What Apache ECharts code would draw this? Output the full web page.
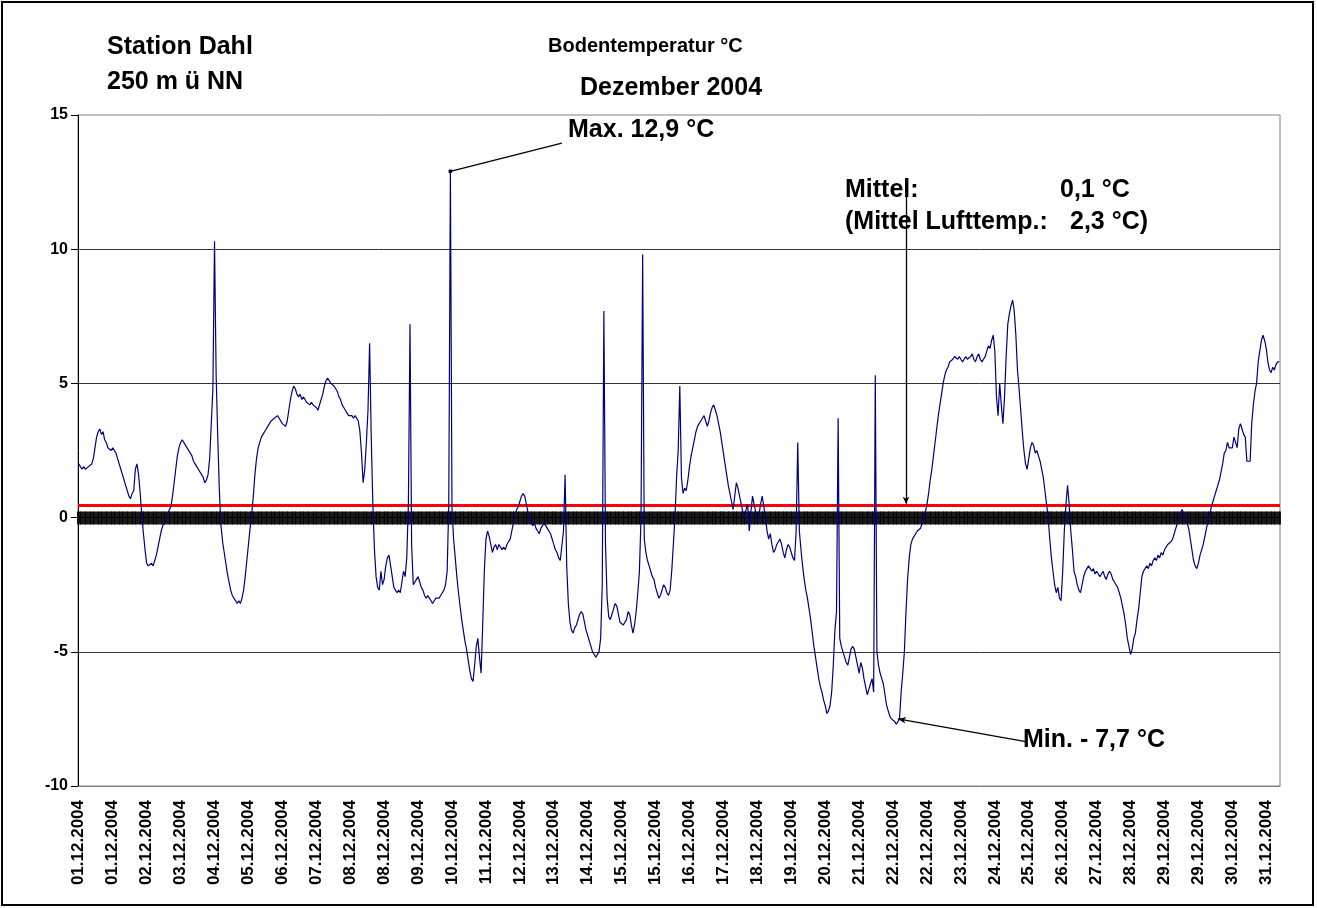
<!DOCTYPE html>
<html><head><meta charset="utf-8">
<script src="https://cdn.jsdelivr.net/npm/echarts@6/dist/echarts.min.js"></script>
<style>html,body{margin:0;padding:0;background:#fff}#c{width:1317px;height:908px}</style>
</head><body><div id="c"></div>
<script>
// Hourly soil temperature (°C), one array per day of December 2004 (hours 0..23)
const d01 = [2.0,1.9,1.8,1.9,1.8,1.8,1.9,1.9,2.0,2.2,2.6,3.0,3.2,3.3,3.1,3.2,2.9,2.8,2.6,2.6,2.5,2.6,2.5,2.4];
const d02 = [2.2,2.0,1.8,1.6,1.4,1.2,1.0,0.8,0.7,0.9,1.0,1.8,2.0,1.6,0.9,0.1,-0.6,-1.2,-1.7,-1.8,-1.8,-1.7,-1.8,-1.6];
const d03 = [-1.4,-1.1,-0.8,-0.5,-0.3,-0.2,-0.1,0.1,0.3,0.4,0.8,1.3,1.8,2.3,2.6,2.8,2.9,2.9,2.7,2.6,2.5,2.4,2.3,2.1];
const d04 = [2.0,1.9,1.8,1.7,1.6,1.5,1.3,1.4,1.6,2.2,3.5,4.8,10.3,5.3,3.0,1.0,-0.3,-0.9,-1.3,-1.7,-2.1,-2.4,-2.7,-2.9];
const d05 = [-3.0,-3.1,-3.2,-3.1,-3.2,-3.0,-2.7,-2.2,-1.6,-1.0,-0.4,0.1,0.8,1.6,2.2,2.6,2.8,3.0,3.1,3.2,3.3,3.4,3.5,3.6];
const d06 = [3.6,3.7,3.7,3.8,3.7,3.6,3.5,3.5,3.4,3.6,4.0,4.4,4.7,4.9,4.8,4.6,4.5,4.6,4.4,4.5,4.4,4.3,4.3,4.2];
const d07 = [4.3,4.2,4.2,4.1,4.0,4.2,4.4,4.6,4.9,5.1,5.2,5.2,5.0,5.0,4.9,4.8,4.7,4.5,4.4,4.2,4.1,4.0,3.9,3.8];
const d08 = [3.8,3.8,3.7,3.8,3.7,3.6,3.2,2.4,1.3,1.8,2.8,4.0,6.5,3.0,0.5,-1.2,-2.2,-2.6,-2.7,-2.0,-2.5,-2.3,-1.8,-1.5];
const d09 = [-1.4,-1.8,-2.2,-2.6,-2.7,-2.8,-2.7,-2.8,-2.4,-2.0,-2.2,-1.5,0.5,7.2,-1.0,-2.5,-2.4,-2.3,-2.2,-2.4,-2.6,-2.7,-2.9,-3.0];
const d10 = [-2.9,-3.0,-3.1,-3.2,-3.1,-3.0,-3.0,-3.0,-2.9,-2.8,-2.7,-2.5,-2.0,0.5,12.9,0.3,-0.8,-1.5,-2.2,-2.8,-3.3,-3.8,-4.2,-4.6];
const d11 = [-4.9,-5.3,-5.7,-6.0,-6.1,-5.5,-4.8,-4.5,-5.2,-5.8,-4.0,-2.0,-0.8,-0.5,-0.7,-1.0,-1.3,-1.1,-1.0,-1.2,-1.0,-1.1,-1.2,-1.1];
const d12 = [-1.2,-1.0,-0.9,-0.8,-0.5,-0.2,0.1,0.3,0.4,0.6,0.8,0.9,0.8,0.5,0.2,0.0,-0.2,-0.3,-0.2,-0.4,-0.5,-0.6,-0.4,-0.3];
const d13 = [-0.2,-0.3,-0.4,-0.5,-0.6,-0.8,-1.0,-1.2,-1.3,-1.5,-1.6,-1.6,-0.5,1.6,-1.8,-3.2,-3.9,-4.2,-4.3,-4.1,-4.0,-3.8,-3.6,-3.5];
const d14 = [-3.6,-3.9,-4.2,-4.4,-4.6,-4.8,-5.0,-5.1,-5.2,-5.2,-5.0,-4.5,-2.5,7.7,-1.0,-3.0,-3.7,-3.8,-3.6,-3.4,-3.2,-3.3,-3.6,-3.9];
const d15 = [-3.9,-4.0,-4.0,-3.8,-3.5,-3.6,-4.0,-4.3,-4.0,-3.5,-2.8,-2.0,0.0,9.8,-0.8,-1.3,-1.6,-1.8,-2.0,-2.2,-2.3,-2.6,-2.8,-3.0];
const d16 = [-2.9,-2.7,-2.5,-2.6,-2.8,-2.9,-2.7,-2.0,-1.0,0.0,1.5,2.5,4.9,1.5,0.9,1.1,1.0,1.4,1.9,2.3,2.6,2.9,3.2,3.4];
const d17 = [3.5,3.6,3.7,3.8,3.6,3.4,3.6,3.9,4.1,4.2,4.0,3.8,3.5,3.2,2.8,2.4,2.0,1.6,1.2,0.9,0.6,0.3,0.8,1.3];
const d18 = [1.1,0.8,0.5,0.2,0.0,0.3,0.5,-0.5,0.2,0.8,0.5,0.2,-0.2,0.1,0.5,0.8,0.4,0.0,-0.5,-0.8,-0.6,-1.0,-1.3,-1.2];
const d19 = [-1.0,-0.9,-0.8,-1.0,-1.3,-1.5,-1.2,-1.0,-1.1,-1.3,-1.5,-1.6,-0.5,2.8,-0.5,-1.2,-1.8,-2.3,-2.7,-3.0,-3.4,-3.8,-4.3,-4.8];
const d20 = [-5.2,-5.6,-6.0,-6.3,-6.5,-6.8,-7.0,-7.3,-7.2,-7.0,-6.5,-5.5,-4.2,-3.5,3.7,-4.5,-4.8,-5.0,-5.2,-5.4,-5.5,-5.2,-4.9,-4.8];
const d21 = [-4.9,-5.2,-5.5,-5.8,-5.4,-5.6,-6.0,-6.3,-6.6,-6.4,-6.2,-6.0,-6.5,5.3,-5.0,-5.5,-5.8,-6.0,-6.2,-6.6,-7.0,-7.2,-7.4,-7.5];
const d22 = [-7.5,-7.6,-7.7,-7.6,-7.5,-6.5,-5.8,-5.0,-3.5,-2.3,-1.5,-1.0,-0.8,-0.7,-0.6,-0.5,-0.5,-0.4,-0.2,0.0,0.2,0.5,0.9,1.4];
const d23 = [1.8,2.3,2.8,3.3,3.8,4.2,4.6,5.0,5.3,5.5,5.6,5.8,5.8,5.9,6.0,6.0,5.9,6.0,5.9,5.8,5.9,6.0,5.9,5.9];
const d24 = [6.0,6.1,5.9,5.8,6.0,6.1,5.9,5.8,5.9,6.0,6.2,6.4,6.3,6.6,6.8,6.2,4.5,3.8,5.0,4.2,3.5,4.5,6.0,7.2];
const d25 = [7.6,7.9,8.1,7.7,6.8,5.5,4.8,4.0,3.2,2.5,2.0,1.8,2.2,2.6,2.8,2.7,2.4,2.5,2.3,2.1,1.8,1.5,1.0,0.5];
const d26 = [0.0,-0.8,-1.5,-2.0,-2.5,-2.8,-2.6,-3.0,-3.1,-2.0,-0.5,0.5,1.2,0.5,-0.5,-1.2,-2.0,-2.2,-2.5,-2.7,-2.8,-2.5,-2.2,-2.0];
const d27 = [-1.9,-1.8,-1.9,-2.0,-1.9,-2.1,-2.0,-2.1,-2.2,-2.1,-2.0,-2.2,-2.3,-2.1,-2.0,-2.1,-2.3,-2.4,-2.5,-2.6,-2.8,-3.0,-3.3,-3.6];
const d28 = [-4.0,-4.5,-4.8,-5.1,-4.9,-4.5,-4.3,-3.8,-3.4,-2.8,-2.2,-2.0,-2.0,-1.8,-1.9,-1.7,-1.8,-1.6,-1.5,-1.6,-1.4,-1.5,-1.3,-1.4];
const d29 = [-1.2,-1.1,-1.0,-1.0,-0.9,-0.8,-0.6,-0.4,-0.2,0.0,0.2,0.3,0.1,-0.1,-0.2,-0.4,-0.8,-1.2,-1.6,-1.8,-1.9,-1.7,-1.4,-1.2];
const d30 = [-1.0,-0.7,-0.4,-0.1,0.1,0.4,0.6,0.8,1.0,1.2,1.4,1.7,2.0,2.4,2.5,2.8,2.6,2.6,2.6,3.0,2.8,2.6,3.3,3.5];
const d31 = [3.3,3.1,3.0,2.1,2.1,2.1,3.5,4.2,4.7,5.0,5.8,6.2,6.6,6.8,6.6,6.3,5.8,5.5,5.4,5.6,5.5,5.7,5.8,5.8];

const days = [d01,d02,d03,d04,d05,d06,d07,d08,d09,d10,d11,d12,d13,d14,d15,d16,d17,d18,d19,d20,d21,d22,d23,d24,d25,d26,d27,d28,d29,d30,d31];
const redLevel = 0.47;          // red horizontal line
const maxValue = 12.9, minValue = -7.7;
const yMin = -10, yMax = 15, yStep = 5;
const labelEvery = 21;          // one date label every 21 hours

const categories = [];
days.forEach((arr, di) => {
  arr.forEach((v, h) => {
    const dd = String(di + 1).padStart(2, '0');
    const hh = String(h).padStart(2, '0');
    categories.push(dd + '.12.2004 ' + hh + ':00');
  });
});
const values = days.flat();
const maxIdx = values.indexOf(maxValue);
const minIdx = values.indexOf(minValue);

const FF = '"Liberation Sans", Arial, Helvetica, sans-serif';
const chart = echarts.init(document.getElementById('c'), null, {renderer: 'canvas'});

function tickAxis(inside, len, yIdx) {
  return {
    type: 'category', data: categories, position: 'bottom',
    axisLine: {show: true, onZero: true, onZeroAxisIndex: yIdx, lineStyle: {color: '#000', width: 1}},
    axisTick: {show: true, interval: 0, inside: inside, length: len, lineStyle: {color: '#000', width: 1.8}},
    axisLabel: {show: false}, splitLine: {show: false}
  };
}

const T = (text, x, y, size, extra) => Object.assign({
  type: 'text', x: x, y: y, silent: true,
  style: {text: text, fill: '#000', fontSize: size, fontWeight: 'bold', fontFamily: FF, verticalAlign: 'middle', align: 'left'}
}, extra || {});

chart.setOption({
  animation: false,
  backgroundColor: '#fff',
  grid: {left: 78, right: 37, top: 115, bottom: 122, show: true, borderColor: '#808080', borderWidth: 1, containLabel: false, outerBoundsMode: 'none'},
  xAxis: [
    {
      type: 'category', data: categories, position: 'bottom',
      axisLine: {show: true, onZero: false, lineStyle: {color: '#808080', width: 1}},
      axisTick: {show: false},
      axisLabel: {interval: labelEvery - 1, rotate: 90, margin: 14, fontSize: 17, fontWeight: 'bold', color: '#000', fontFamily: FF,
                  formatter: v => v.slice(0, 10)},
      splitLine: {show: false}
    },
    tickAxis(false, 7, 0),
    tickAxis(true, 6, 1)
  ],
  yAxis: [
    {
      type: 'value', min: yMin, max: yMax, interval: yStep,
      axisLine: {show: true, onZero: false, lineStyle: {color: '#000', width: 1}},
      axisTick: {show: true, length: 7, lineStyle: {color: '#000', width: 1}},
      axisLabel: {fontSize: 16, fontWeight: 'bold', color: '#000', fontFamily: FF, margin: 10},
      splitLine: {show: true, showMinLine: false, showMaxLine: false, lineStyle: {color: '#333', width: 1}}
    },
    {
      type: 'value', min: yMin, max: yMax, interval: yStep, position: 'left',
      axisLine: {show: false, onZero: false}, axisTick: {show: false}, axisLabel: {show: false}, splitLine: {show: false}
    }
  ],
  series: [{
    type: 'line', data: values, xAxisIndex: 0, yAxisIndex: 0,
    showSymbol: false, symbol: 'none', z: 5,
    lineStyle: {color: '#000080', width: 1.2},
    markLine: {
      silent: true, animation: false, symbol: ['none', 'none'], label: {show: false},
      data: [
        {yAxis: redLevel, symbol: 'none', lineStyle: {color: '#ff0000', width: 3, type: 'solid'}},
        [{coord: [maxIdx, maxValue], symbol: 'circle', symbolSize: 4, lineStyle: {color: '#000', width: 1.3, type: 'solid'}},
         {coord: [299, 13.95], symbol: 'none'}],
        [{coord: [minIdx + 1, -7.5], symbol: 'arrow', symbolSize: [5, 8], lineStyle: {color: '#000', width: 1.3, type: 'solid'}},
         {coord: [587, -8.36], symbol: 'none'}],
        [{coord: [512, 11.95], symbol: 'none', lineStyle: {color: '#000', width: 1.3, type: 'solid'}},
         {coord: [512, redLevel + 0.05], symbol: 'arrow', symbolSize: [5, 7]}]
      ]
    }
  }],
  graphic: [
    {type: 'rect', silent: true, shape: {x: 2, y: 2, width: 1311, height: 903}, style: {fill: 'none', stroke: '#000', lineWidth: 2}},
    T('Station Dahl', 107, 47, 25),
    T('250 m ü NN', 107, 82, 25),
    T('Bodentemperatur °C', 548, 46, 20),
    T('Dezember 2004', 580, 88, 25),
    T('Max. 12,9 °C', 568, 130, 25),
    T('Mittel:', 845, 190, 25),
    T('0,1 °C', 1060, 190, 25),
    T('(Mittel Lufttemp.:', 845, 222, 25),
    T('2,3 °C)', 1070, 222, 25),
    T('Min. - 7,7 °C', 1023, 740, 25)
  ]
});
</script></body></html>
